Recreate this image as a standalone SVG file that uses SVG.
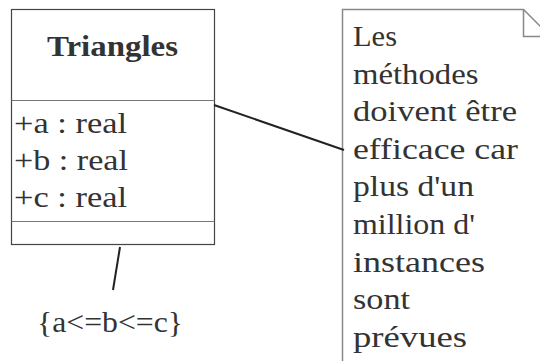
<svg xmlns="http://www.w3.org/2000/svg" width="540" height="361" viewBox="0 0 540 361">
<rect width="540" height="361" fill="#ffffff"/>
<g id="class-triangles">
<rect x="11.5" y="9.5" width="203" height="235" fill="#ffffff" stroke="#444444" stroke-width="1.2"/>
<line x1="11.5" y1="100.5" x2="214.5" y2="100.5" stroke="#777777" stroke-width="1.2"/>
<line x1="11.5" y1="221.5" x2="214.5" y2="221.5" stroke="#777777" stroke-width="1.2"/>
<text x="47" y="56" font-family="Liberation Serif" font-size="30" font-weight="bold" fill="#333333" textLength="131" lengthAdjust="spacingAndGlyphs">Triangles</text>
<text x="14" y="133" font-family="Liberation Serif" font-size="30" fill="#333333" textLength="113" lengthAdjust="spacingAndGlyphs">+a : real</text>
<text x="14" y="170" font-family="Liberation Serif" font-size="30" fill="#333333" textLength="114" lengthAdjust="spacingAndGlyphs">+b : real</text>
<text x="14" y="207" font-family="Liberation Serif" font-size="30" fill="#333333" textLength="113" lengthAdjust="spacingAndGlyphs">+c : real</text>
</g>
<g id="note">
<path d="M342.5,9.5 H523.5 L551,37 V400 H342.5 Z" fill="#ffffff" stroke="#888888" stroke-width="1.5"/>
<path d="M523.5,9.5 V36.5 H551" fill="none" stroke="#888888" stroke-width="1.5"/>
<text x="353" y="46" font-family="Liberation Serif" font-size="30" fill="#333333" textLength="44" lengthAdjust="spacingAndGlyphs">Les</text>
<text x="353" y="83.6" font-family="Liberation Serif" font-size="30" fill="#333333" textLength="125.5" lengthAdjust="spacingAndGlyphs">méthodes</text>
<text x="353" y="121.2" font-family="Liberation Serif" font-size="30" fill="#333333" textLength="164" lengthAdjust="spacingAndGlyphs">doivent être</text>
<text x="353" y="158.8" font-family="Liberation Serif" font-size="30" fill="#333333" textLength="165" lengthAdjust="spacingAndGlyphs">efficace car</text>
<text x="353" y="196.4" font-family="Liberation Serif" font-size="30" fill="#333333" textLength="121" lengthAdjust="spacingAndGlyphs">plus d'un</text>
<text x="353" y="234" font-family="Liberation Serif" font-size="30" fill="#333333" textLength="122" lengthAdjust="spacingAndGlyphs">million d'</text>
<text x="353" y="271.6" font-family="Liberation Serif" font-size="30" fill="#333333" textLength="132" lengthAdjust="spacingAndGlyphs">instances</text>
<text x="353" y="309.2" font-family="Liberation Serif" font-size="30" fill="#333333" textLength="57" lengthAdjust="spacingAndGlyphs">sont</text>
<text x="353" y="346.8" font-family="Liberation Serif" font-size="30" fill="#333333" textLength="114" lengthAdjust="spacingAndGlyphs">prévues</text>
</g>
<g id="constraint">
<text x="37" y="332" font-family="Liberation Serif" font-size="30" fill="#333333" textLength="146" lengthAdjust="spacingAndGlyphs">{a&lt;=b&lt;=c}</text>
</g>
<g id="connectors">
<line x1="214" y1="105" x2="344" y2="150" stroke="#222222" stroke-width="2"/>
<line x1="120" y1="247" x2="113" y2="290" stroke="#222222" stroke-width="2"/>
</g>
</svg>
